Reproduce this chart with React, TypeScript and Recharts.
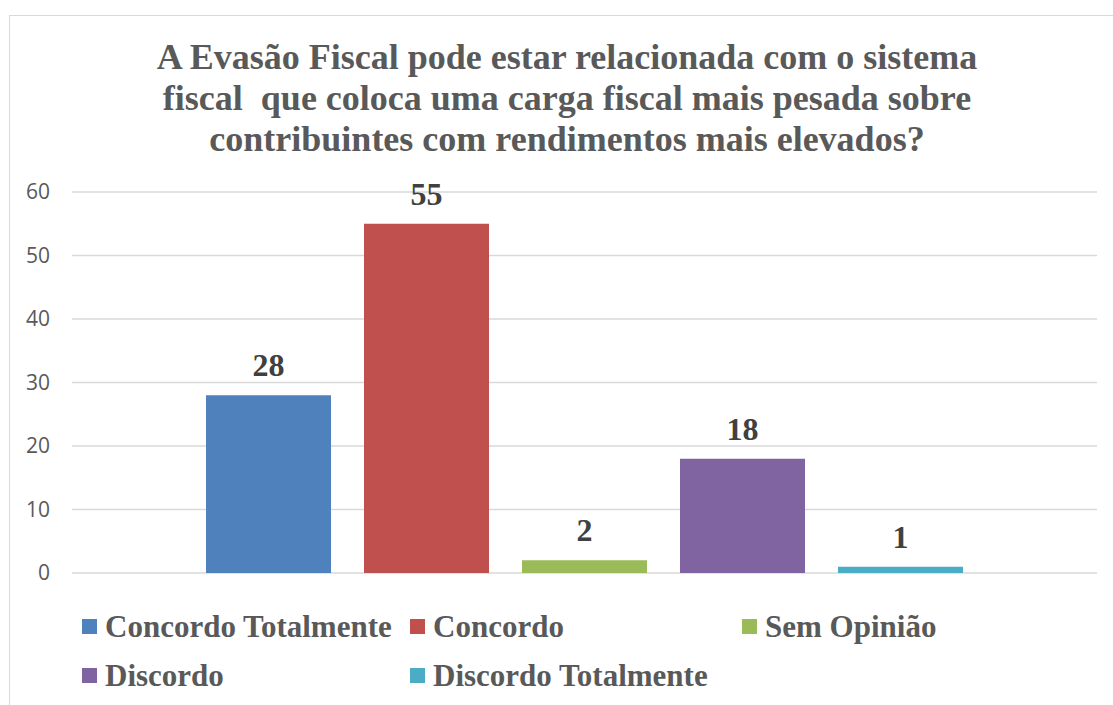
import React from 'react';
import { BarChart, Bar, XAxis, YAxis, CartesianGrid, LabelList } from 'recharts';

const categories = [''];
const seriesNames = ['Concordo Totalmente', 'Concordo', 'Sem Opinião', 'Discordo', 'Discordo Totalmente'];
const seriesValues = [28, 55, 2, 18, 1];
const seriesColors = ['#4F81BD', '#C0504D', '#9BBB59', '#8064A2', '#4BACC6'];
const yTicks = [0, 10, 20, 30, 40, 50, 60];
const titleLines = [
  'A Evasão Fiscal pode estar relacionada com o sistema',
  'fiscal  que coloca uma carga fiscal mais pesada sobre',
  'contribuintes com rendimentos mais elevados?',
];

const data = categories.map((c) => {
  const row: Record<string, string | number> = { name: c };
  seriesNames.forEach((s, i) => {
    row[s] = seriesValues[i];
  });
  return row;
});

const serif = "'Liberation Serif', 'Times New Roman', Times, serif";
const legendCols = [82, 410, 742];
const legendRows = [637, 686];

export default function App() {
  return (
    <div style={{ position: 'absolute', left: 0, top: 0, width: 1113, height: 705, overflow: 'hidden', background: '#fff' }}>
      <div
        style={{
          position: 'absolute',
          left: 9,
          top: 15,
          width: 1120,
          height: 720,
          border: '1.5px solid #d9d9d9',
          boxSizing: 'border-box',
        }}
      />
      <div style={{ position: 'absolute', left: 0, top: 0 }}>
        <BarChart
          width={1113}
          height={705}
          data={data}
          margin={{ top: 192, right: 16, bottom: 132, left: 0 }}
          barGap={33}
          barSize={125}
        >
          <CartesianGrid vertical={false} stroke="#d9d9d9" strokeWidth={1.5} />
          <XAxis dataKey="name" tick={false} tickLine={false} axisLine={{ stroke: '#d9d9d9', strokeWidth: 1.5 }} height={0} />
          <YAxis
            domain={[0, 60]}
            ticks={yTicks}
            width={72}
            axisLine={false}
            tickLine={false}
            tickSize={12}
            tickMargin={10}
            tick={{ fill: '#595959', fontSize: 21, fontFamily: "'Open Sans', 'Liberation Sans', sans-serif" }}
          />
          {seriesNames.map((s, i) => (
            <Bar key={s} dataKey={s} fill={seriesColors[i]} isAnimationActive={false}>
              <LabelList
                dataKey={s}
                position="top"
                offset={19}
                fill="#404040"
                style={{ fontFamily: serif, fontWeight: 'bold', fontSize: 32 }}
              />
            </Bar>
          ))}
        </BarChart>
      </div>
      <svg width={1113} height={705} style={{ position: 'absolute', left: 0, top: 0, pointerEvents: 'none' }}>
        {titleLines.map((l, i) => (
          <text
            key={i}
            x={567}
            y={69 + i * 41}
            textAnchor="middle"
            fill="#595959"
            style={{ fontFamily: serif, fontWeight: 'bold', fontSize: 36, whiteSpace: 'pre' }}
          >
            {l}
          </text>
        ))}
        {seriesNames.map((s, i) => {
          const col = i < 3 ? i : i - 3;
          const row = i < 3 ? 0 : 1;
          const x = legendCols[col];
          const y = legendRows[row];
          return (
            <g key={s}>
              <rect x={x} y={y - 18} width={15} height={15} fill={seriesColors[i]} />
              <text x={x + 23} y={y} fill="#595959" style={{ fontFamily: serif, fontWeight: 'bold', fontSize: 31 }}>
                {s}
              </text>
            </g>
          );
        })}
      </svg>
    </div>
  );
}
